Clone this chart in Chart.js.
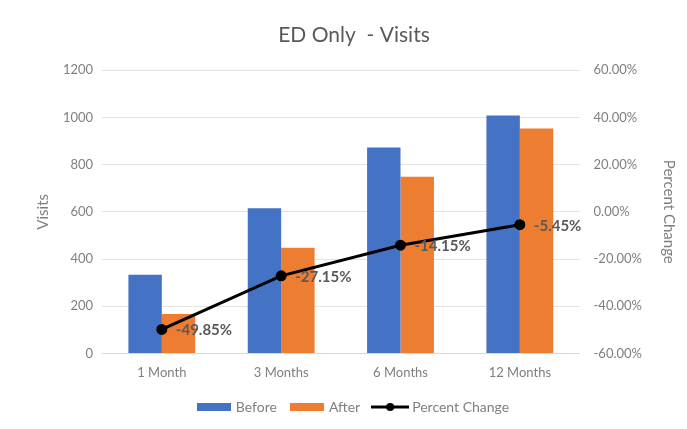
<!DOCTYPE html>
<html><head><meta charset="utf-8">
<script src="https://cdn.jsdelivr.net/npm/chart.js@4"></script>
<style>html,body{margin:0;padding:0;background:#fff}#wrap{width:687px;height:429px}</style>
</head><body><div id="wrap"><canvas id="c" width="687" height="429"></canvas></div>
<script>
const categories = ['1 Month', '3 Months', '6 Months', '12 Months'];
const before = [333, 615, 872, 1008];
const after = [167, 448, 749, 953];
const percentChange = [-49.85, -27.15, -14.15, -5.45];
const leftTicks = [0, 200, 400, 600, 800, 1000, 1200];
const rightTicks = [-60, -40, -20, 0, 20, 40, 60];

const FONT = 'Lato, "Open Sans", sans-serif';
const BLUE = '#4472C4', ORANGE = '#ED7D31';

function boxIcon(color){
  const c=document.createElement('canvas'); c.width=34; c.height=8;
  const x=c.getContext('2d'); x.fillStyle=color; x.fillRect(0,0,34,8); return c;
}
function lineIcon(){
  const c=document.createElement('canvas'); c.width=38; c.height=10;
  const x=c.getContext('2d'); x.strokeStyle='#000'; x.lineWidth=3;
  x.beginPath(); x.moveTo(0,5); x.lineTo(38,5); x.stroke();
  x.fillStyle='#000'; x.beginPath(); x.arc(19,5,4,0,Math.PI*2); x.fill(); return c;
}

const labelPlugin = {
  id:'pctLabels',
  afterDatasetsDraw(chart){
    const meta = chart.getDatasetMeta(2);
    const ctx = chart.ctx;
    ctx.save();
    ctx.font = 'bold 15px ' + FONT;
    ctx.fillStyle = '#595959';
    ctx.textBaseline = 'middle';
    ctx.textAlign = 'left';
    meta.data.forEach((pt,i)=>{
      ctx.fillText(percentChange[i].toFixed(2)+'%', pt.x+14, pt.y+1);
    });
    ctx.restore();
  }
};

new Chart(document.getElementById('c'), {
  data:{
    labels: categories,
    datasets:[
      {type:'bar', label:'Before', data: before, backgroundColor: BLUE, yAxisID:'y', order:2,
       categoryPercentage:0.56, barPercentage:1.0},
      {type:'bar', label:'After', data: after, backgroundColor: ORANGE, yAxisID:'y', order:2,
       categoryPercentage:0.56, barPercentage:1.0},
      {type:'line', label:'Percent Change', data: percentChange, borderColor:'#000', backgroundColor:'#000',
       borderWidth:3, pointRadius:4, pointBackgroundColor:'#000', yAxisID:'y1', order:1, tension:0}
    ]
  },
  options:{
    responsive:false, animation:false,
    layout:{padding:{left:30, right:9, top:8, bottom:5}},
    plugins:{
      title:{display:true, text:'ED Only  - Visits', color:'#595959', font:{family:FONT, size:21, weight:'normal'}, padding:{top:15, bottom:22}},
      legend:{position:'bottom', labels:{usePointStyle:true, pointStyleWidth:30, color:'#7f7f7f', font:{family:FONT, size:14}, padding:15,
        generateLabels(chart){
          return chart.data.datasets.map((d,i)=>({text:d.label, datasetIndex:i, fontColor:'#7f7f7f',
            pointStyle: i===0?boxIcon(BLUE):i===1?boxIcon(ORANGE):lineIcon(), lineWidth:0, strokeStyle:'transparent', fillStyle:'transparent'}));
        }}},
      tooltip:{enabled:false}
    },
    scales:{
      x:{grid:{display:false}, border:{display:true, color:'#d9d9d9'}, ticks:{color:'#7f7f7f', font:{family:FONT, size:13}, padding:4}},
      y:{position:'left', min:0, max:1200, afterBuildTicks(s){ s.ticks = leftTicks.map(v=>({value:v})); },
        grid:{color:'#e3e3e3', drawTicks:false}, border:{display:false},
        ticks:{color:'#7f7f7f', font:{family:FONT, size:13}, padding:9, callback:v=>String(v)},
        title:{display:true, text:'Visits', color:'#7f7f7f', font:{family:FONT, size:15}, padding:{bottom:2}}},
      y1:{position:'right', min:-60, max:60, afterBuildTicks(s){ s.ticks = rightTicks.map(v=>({value:v})); },
        grid:{display:false, drawTicks:false}, border:{display:false},
        ticks:{color:'#7f7f7f', font:{family:FONT, size:13}, padding:14, callback:v=>v.toFixed(2)+'%'},
        title:{display:true, text:'Percent Change', color:'#7f7f7f', font:{family:FONT, size:15}, padding:{top:0}}}
    }
  },
  plugins:[labelPlugin]
});
</script></body></html>
